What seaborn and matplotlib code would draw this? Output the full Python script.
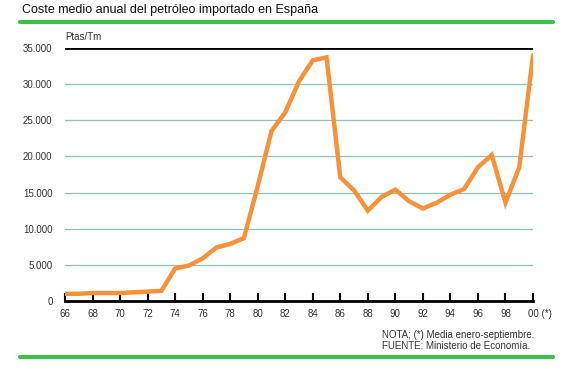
import matplotlib
matplotlib.use("Agg")
import matplotlib.pyplot as plt
import matplotlib.transforms as mtransforms
import seaborn as sns
import pandas as pd
from matplotlib.lines import Line2D

# Coste medio anual del petróleo importado (Ptas/Tm)
years = list(range(1966, 2001))
cost = [1000, 1000, 1100, 1100, 1100, 1200, 1300, 1400, 4500, 4900,
        5900, 7400, 7900, 8700, 15900, 23500, 26100, 30400, 33300, 33700,
        17100, 15300, 12500, 14400, 15400, 13800, 12800, 13600, 14700, 15500,
        18500, 20200, 13600, 18500, 34000]
tick_years = list(range(1966, 2001, 2))
tick_labels = [f"{y % 100:02d}" for y in tick_years[:-1]] + ["00 (*)"]
y_ticks = [0, 5000, 10000, 15000, 20000, 25000, 30000, 35000]
y_labels = ["0", "5.000", "10.000", "15.000", "20.000", "25.000", "30.000", "35.000"]

df = pd.DataFrame({"year": years, "cost": cost})

sns.set_style("white")
plt.rcParams["font.family"] = ["Liberation Sans", "DejaVu Sans"]

fig = plt.figure(figsize=(5.68, 3.84), dpi=100)
ax = fig.add_axes([65 / 568, 1 - 301 / 384, 468 / 568, 253 / 384])

for v in y_ticks[1:-1]:
    ax.axhline(v, color="#8cc4b0", lw=0.9, zorder=1)
ax.axhline(35000, color="black", lw=2.0, zorder=1)

sns.lineplot(data=df, x="year", y="cost", ax=ax, color="#f7923a",
             lw=3.2, zorder=3, solid_joinstyle="miter")

ax.set_xlim(1966, 2000)
ax.set_ylim(0, 35000)
ax.set_xticks(tick_years)
ax.set_xticklabels(tick_labels)
ax.set_yticks(y_ticks)
ax.set_yticklabels(y_labels)
ax.set_xlabel("")
ax.set_ylabel("")
for s in ["top", "right", "left"]:
    ax.spines[s].set_visible(False)
ax.spines["bottom"].set_linewidth(2.0)
ax.spines["bottom"].set_color("black")
ax.spines["bottom"].set_zorder(4)
ax.tick_params(axis="x", bottom=True, direction="in", length=6, width=1.5,
               color="black", labelsize=7, pad=6, labelcolor="#333333")
ax.tick_params(axis="y", left=False, length=0, labelsize=7, pad=9,
               labelcolor="#333333")
ax.set_facecolor("white")

# keep "00" under its tick, "(*)" hanging to the right
last = ax.get_xticklabels()[-1]
last.set_horizontalalignment("left")
last.set_transform(last.get_transform() +
                   mtransforms.ScaledTranslation(-4.5 / 100, 0, fig.dpi_scale_trans))

fig.text(22 / 568, 1 - 10 / 384, "Coste medio anual del petróleo importado en España",
         fontsize=9, va="center", ha="left", color="#111111")
fig.add_artist(Line2D([20 / 568, 553 / 568], [1 - 22 / 384] * 2, color="#3fbf4a", lw=3))
fig.add_artist(Line2D([20 / 568, 553 / 568], [1 - 357 / 384] * 2, color="#3fbf4a", lw=3))
fig.text(65 / 568, 1 - 37 / 384, "Ptas/Tm", fontsize=7, va="center", ha="left",
         color="#333333")
fig.text(382 / 568, 1 - 335 / 384, "NOTA; (*) Media enero-septiembre.", fontsize=7,
         va="center", ha="left", color="#333333")
fig.text(382 / 568, 1 - 346 / 384, "FUENTE: Ministerio de Economía.", fontsize=7,
         va="center", ha="left", color="#333333")

fig.savefig("out.png", dpi=100)
